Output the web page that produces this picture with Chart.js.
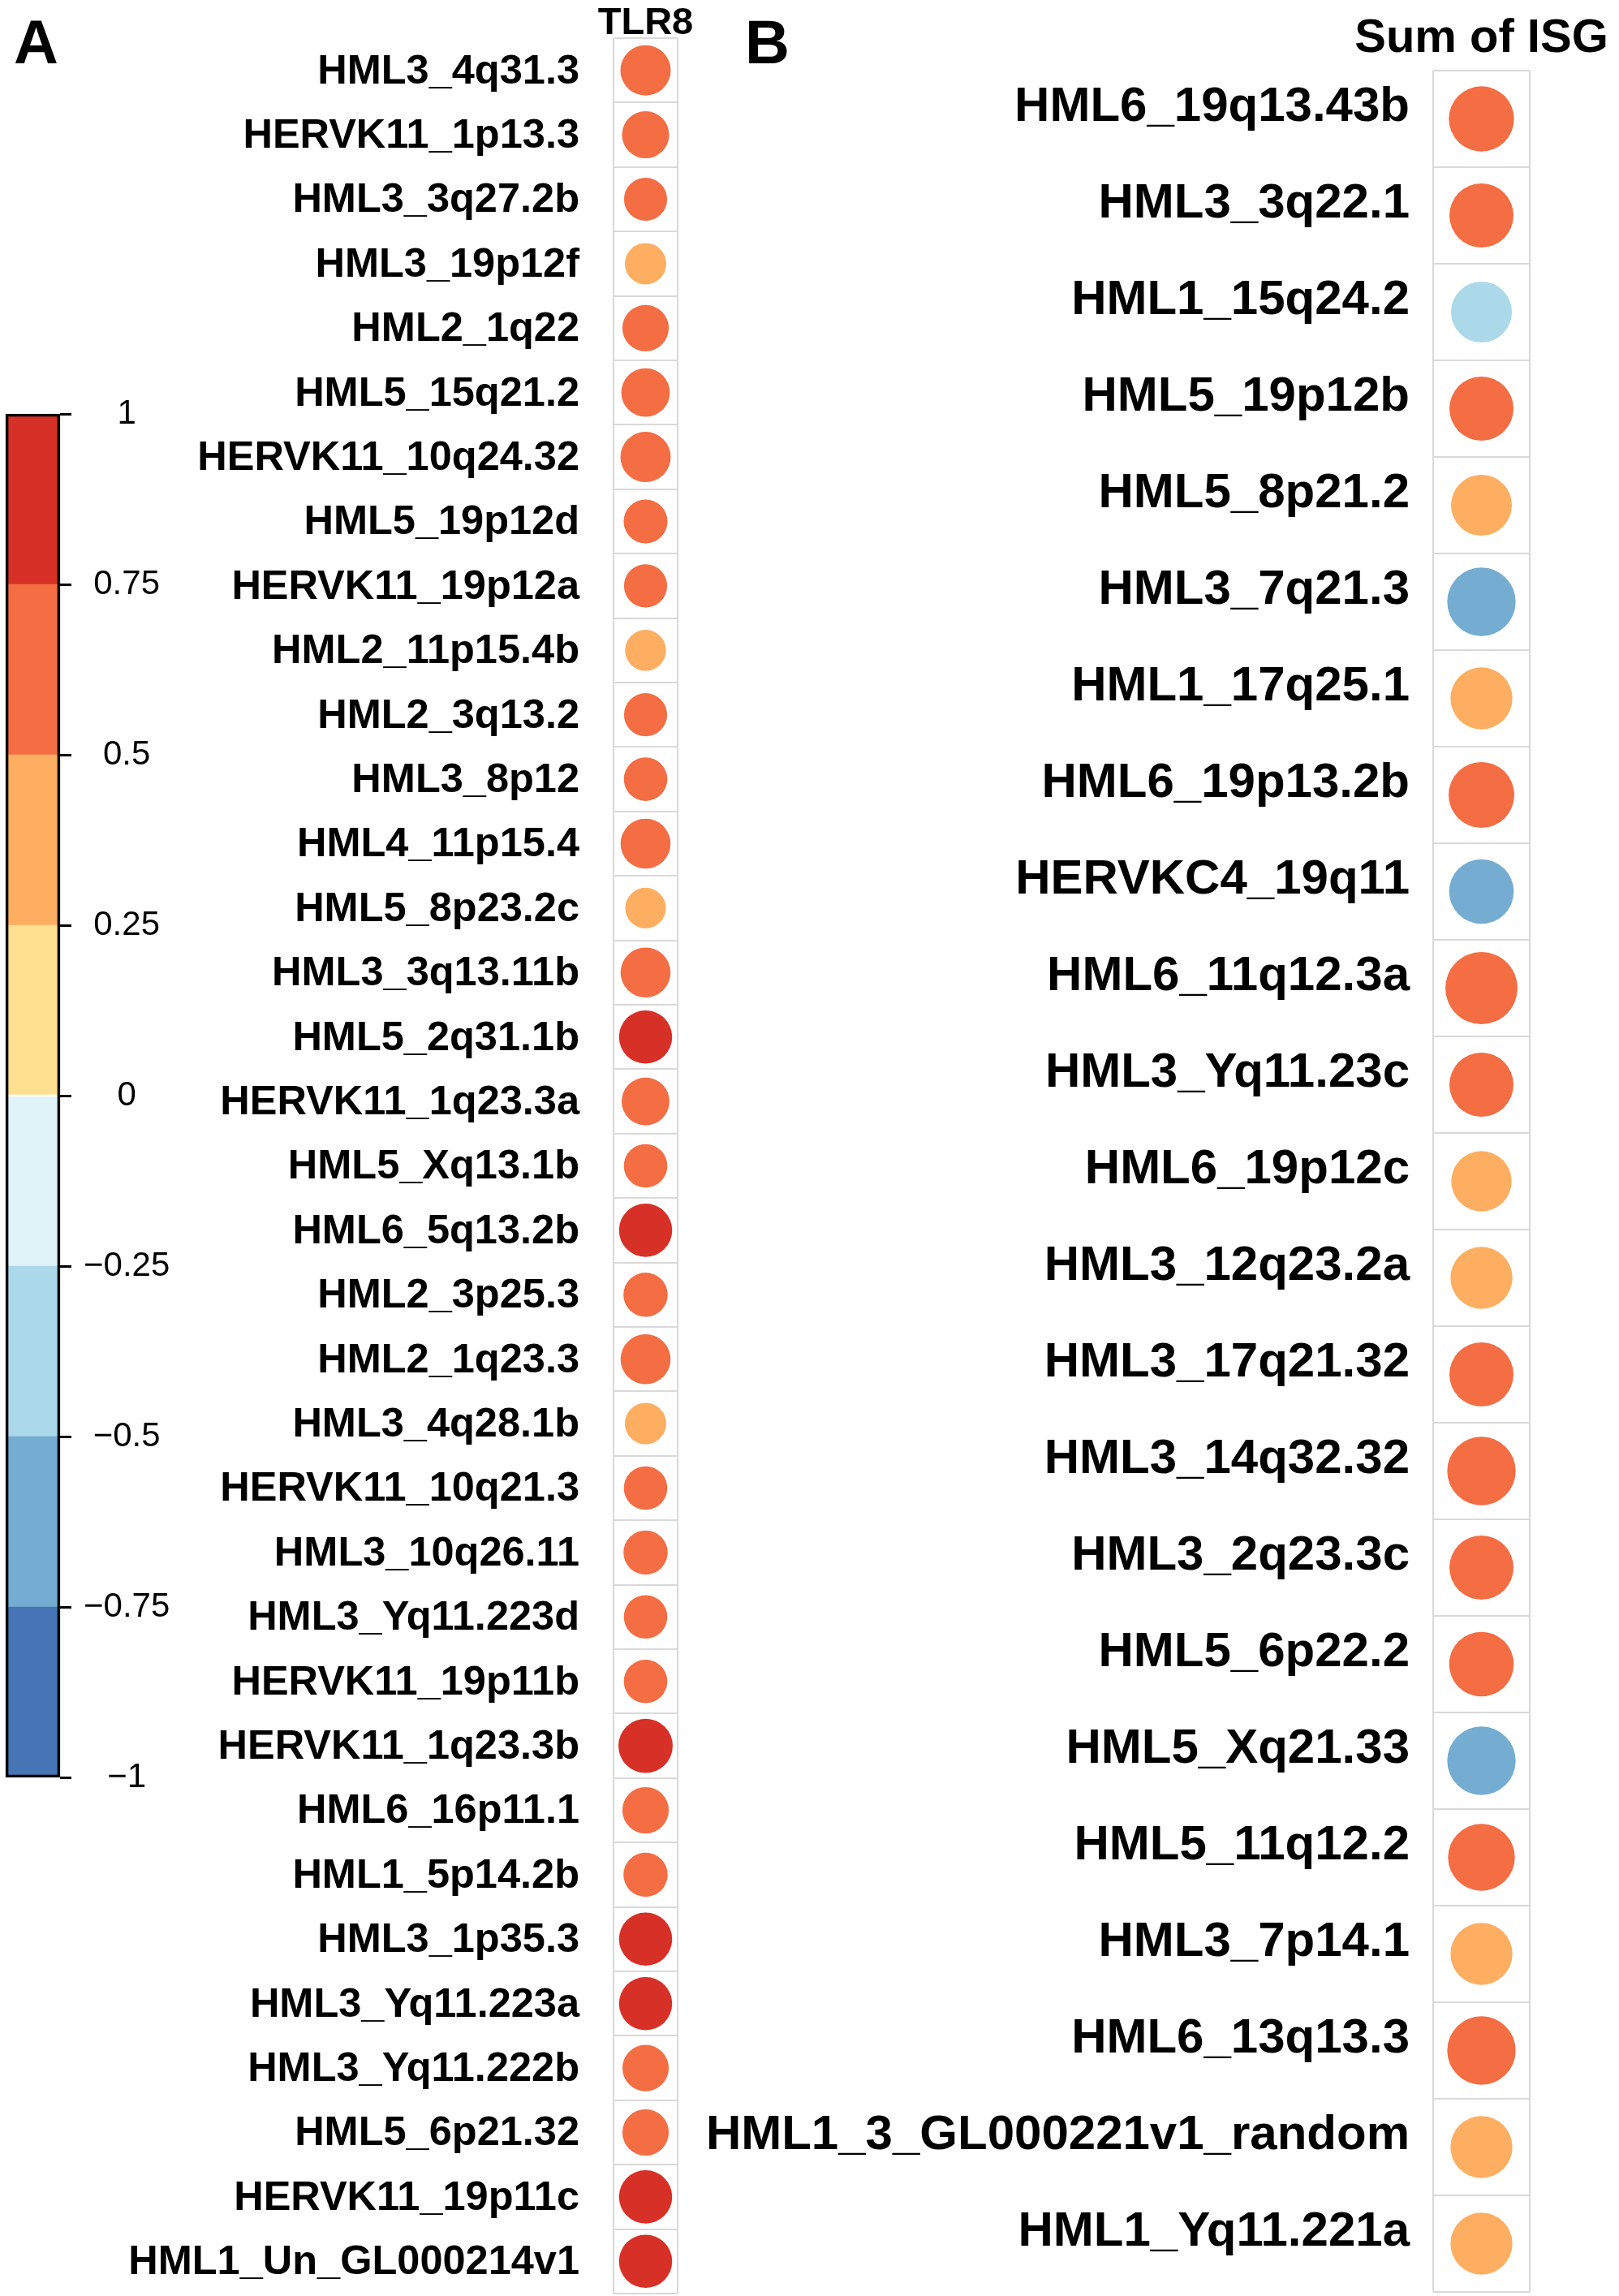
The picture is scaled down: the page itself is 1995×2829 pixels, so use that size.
<!DOCTYPE html>
<html>
<head>
<meta charset="utf-8">
<script src="https://cdn.jsdelivr.net/npm/chart.js@4.4.1/dist/chart.umd.min.js"></script>
<style>
html,body{margin:0;padding:0;background:#fff;width:1995px;height:2829px;overflow:hidden;position:relative;font-family:"Liberation Sans",Arial,sans-serif;}
canvas{position:absolute;top:0;}
.tag{position:absolute;font-weight:bold;font-size:76px;line-height:76px;color:#000;font-family:"Liberation Sans",Arial,sans-serif;}
</style>
</head>
<body>
<div class="tag" style="left:17px;top:14px">A</div>
<div class="tag" style="left:918px;top:14px">B</div>
<canvas id="cA" width="880" height="2829" style="left:0px"></canvas>
<canvas id="cB" width="1155" height="2829" style="left:840px"></canvas>
<canvas id="cL" width="280" height="2829" style="left:0px"></canvas>
<script>
// ---------- data ----------
const colA = ['TLR8'];
const rowsA = [
  'HML3_4q31.3','HERVK11_1p13.3','HML3_3q27.2b','HML3_19p12f','HML2_1q22',
  'HML5_15q21.2','HERVK11_10q24.32','HML5_19p12d','HERVK11_19p12a','HML2_11p15.4b',
  'HML2_3q13.2','HML3_8p12','HML4_11p15.4','HML5_8p23.2c','HML3_3q13.11b',
  'HML5_2q31.1b','HERVK11_1q23.3a','HML5_Xq13.1b','HML6_5q13.2b','HML2_3p25.3',
  'HML2_1q23.3','HML3_4q28.1b','HERVK11_10q21.3','HML3_10q26.11','HML3_Yq11.223d',
  'HERVK11_19p11b','HERVK11_1q23.3b','HML6_16p11.1','HML1_5p14.2b','HML3_1p35.3',
  'HML3_Yq11.223a','HML3_Yq11.222b','HML5_6p21.32','HERVK11_19p11c','HML1_Un_GL000214v1'
];
const corrA = [
  0.72, 0.63, 0.52, 0.47, 0.61,
  0.67, 0.72, 0.54, 0.52, 0.46,
  0.52, 0.53, 0.71, 0.45, 0.71,
  0.80, 0.65, 0.53, 0.80, 0.55,
  0.71, 0.47, 0.53, 0.55, 0.53,
  0.53, 0.83, 0.61, 0.55, 0.80,
  0.80, 0.61, 0.61, 0.80, 0.80
];
const colB = ['Sum of ISG'];
const rowsB = [
  'HML6_19q13.43b','HML3_3q22.1','HML1_15q24.2','HML5_19p12b','HML5_8p21.2',
  'HML3_7q21.3','HML1_17q25.1','HML6_19p13.2b','HERVKC4_19q11','HML6_11q12.3a',
  'HML3_Yq11.23c','HML6_19p12c','HML3_12q23.2a','HML3_17q21.32','HML3_14q32.32',
  'HML3_2q23.3c','HML5_6p22.2','HML5_Xq21.33','HML5_11q12.2','HML3_7p14.1',
  'HML6_13q13.3','HML1_3_GL000221v1_random','HML1_Yq11.221a'
];
const corrB = [
  0.53, 0.51, -0.45, 0.51, 0.45,
  -0.59, 0.47, 0.54, -0.52, 0.66,
  0.51, 0.44, 0.47, 0.51, 0.59,
  0.51, 0.52, -0.59, 0.56, 0.47,
  0.59, 0.47, 0.47
];
const colorBreaks = [-1, -0.75, -0.5, -0.25, 0, 0.25, 0.5, 0.75, 1];
const legendTickLabels = ['\u22121','\u22120.75','\u22120.5','\u22120.25','0','0.25','0.5','0.75','1'];
const binColors = ['#4575B4','#74ADD1','#ABD9E9','#E0F3F8','#FEE090','#FDAE61','#F46D43','#D73027'];

// ---------- helpers ----------
const FAMILY = '"Liberation Sans", Arial, sans-serif';
const CANVAS_H = 2829;
function colorFor(v) {
  for (let i = 0; i < binColors.length; i++) {
    if (v >= colorBreaks[i] && v < colorBreaks[i + 1]) return binColors[i];
  }
  return binColors[binColors.length - 1];
}
// circle diameter grows with |r| relative to the cell size
function radiusFor(v, cell) {
  return cell * (0.38 + 0.557 * Math.abs(v)) / 2;
}

function dotChart(id, rows, corr, col, L) {
  const cell = (CANVAS_H - L.top - L.pad.bottom) / rows.length;
  const pts = rows.map((r, i) => ({ x: col[0], y: r, r: radiusFor(corr[i], cell) }));
  return new Chart(document.getElementById(id), {
    type: 'bubble',
    data: { datasets: [{
      data: pts,
      backgroundColor: corr.map(colorFor),
      borderWidth: 0,
      hoverBorderWidth: 0,
      hoverRadius: 0
    }]},
    options: {
      responsive: false,
      animation: false,
      events: [],
      layout: { padding: L.pad, autoPadding: false },
      plugins: { legend: { display: false }, tooltip: { enabled: false } },
      scales: {
        x: {
          type: 'category', labels: col, position: 'top', offset: true,
          grid: { offset: true, color: '#D9D9D9', lineWidth: 2, drawTicks: false },
          border: { display: false },
          ticks: { color: '#000', maxRotation: 0, minRotation: 0, padding: L.titlePad,
                   font: { family: FAMILY, size: L.titleSize, weight: 'bold', lineHeight: 1 } },
          afterFit: s => { s.height = L.top; s.paddingLeft = 0; s.paddingRight = 0; }
        },
        y: {
          type: 'category', labels: rows, position: 'left', offset: true,
          grid: { offset: true, color: '#D9D9D9', lineWidth: 2, drawTicks: false },
          border: { display: false },
          ticks: { color: '#000', autoSkip: false, padding: L.labelPad, labelOffset: L.labelOffset,
                   font: { family: FAMILY, size: L.labelSize, weight: 'bold', lineHeight: 1 } },
          afterFit: s => { s.width = L.axisW; s.paddingTop = 0; s.paddingBottom = 0; }
        }
      }
    }
  });
}

dotChart('cA', rowsA, corrA, colA, {
  pad: { left: 0, top: 0, right: 45, bottom: 3 },
  top: 47, axisW: 756, titleSize: 47, titlePad: -5.5,
  labelSize: 50.5, labelPad: 42, labelOffset: 2
});

dotChart('cB', rowsB, corrB, colB, {
  pad: { left: 0, top: 0, right: 110, bottom: 5 },
  top: 87, axisW: 926, titleSize: 58, titlePad: 10,
  labelSize: 60, labelPad: 29, labelOffset: -14
});

// ---------- colour legend ----------
const legendSets = binColors.map((c, i) => ({
  data: [[colorBreaks[i], colorBreaks[i + 1]]],
  backgroundColor: c, borderWidth: 0, grouped: false,
  barPercentage: 1, categoryPercentage: 1
}));
legendSets.push({
  data: [[colorBreaks[0], colorBreaks[colorBreaks.length - 1]]],
  backgroundColor: 'rgba(0,0,0,0)', borderColor: '#000', borderWidth: 3,
  borderSkipped: false, grouped: false, order: -1, clip: false,
  barPercentage: 1, categoryPercentage: 1
});

new Chart(document.getElementById('cL'), {
  type: 'bar',
  data: { labels: [''], datasets: legendSets },
  options: {
    responsive: false,
    animation: false,
    events: [],
    layout: { padding: { left: 7, top: 510, right: 0, bottom: 639 }, autoPadding: false },
    plugins: { legend: { display: false }, tooltip: { enabled: false } },
    scales: {
      x: { display: false },
      y: {
        type: 'linear', position: 'right',
        min: colorBreaks[0], max: colorBreaks[colorBreaks.length - 1],
        afterBuildTicks: s => { s.ticks = colorBreaks.map(v => ({ value: v })); },
        ticks: {
          color: '#000', crossAlign: 'center', padding: 15, autoSkip: false,
          callback: (v, i) => legendTickLabels[i],
          font: { family: FAMILY, size: 42, lineHeight: 1 }
        },
        grid: { drawOnChartArea: false, drawTicks: true, tickLength: 14, color: '#000', lineWidth: 3 },
        border: { display: false },
        afterFit: s => { s.width = 206; s.paddingTop = 0; s.paddingBottom = 0; }
      }
    }
  }
});
</script>
</body>
</html>
